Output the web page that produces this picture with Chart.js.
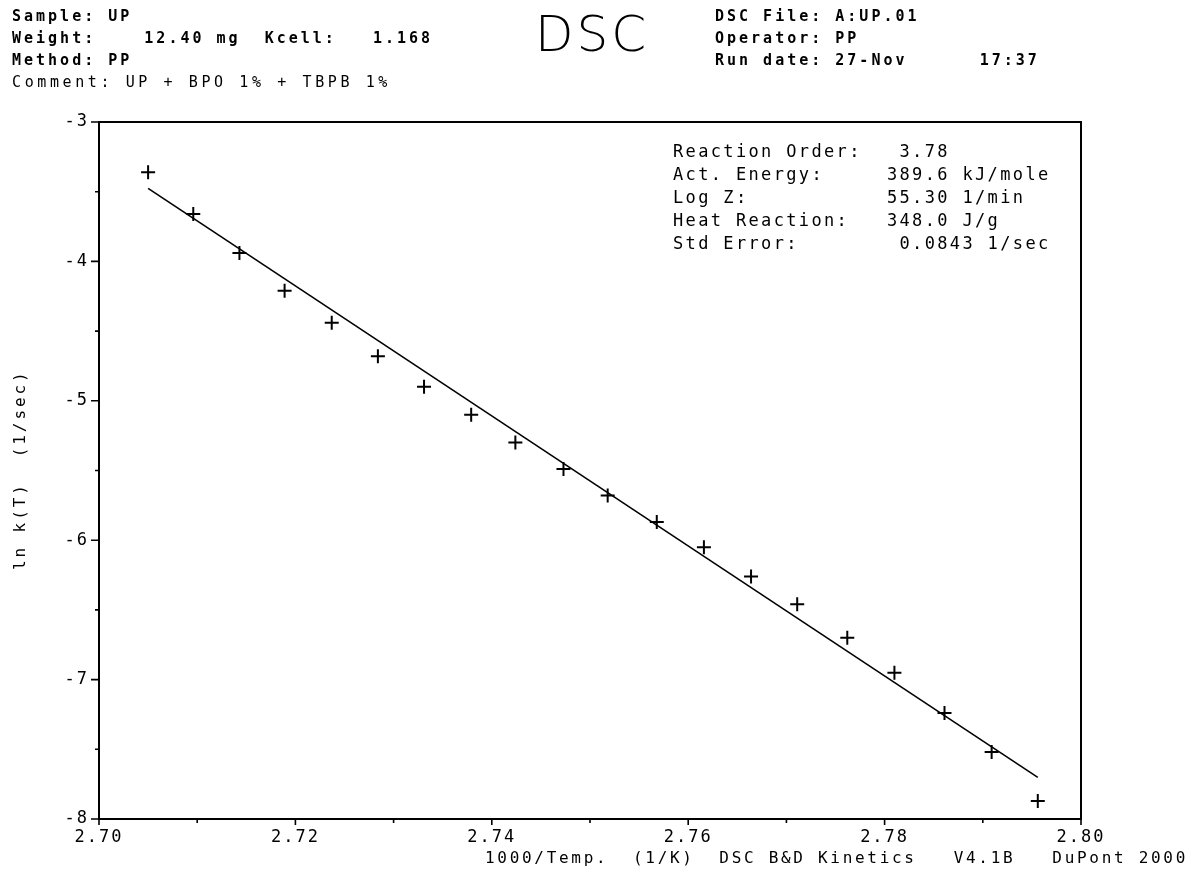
<!DOCTYPE html>
<html>
<head>
<meta charset="utf-8">
<script src="https://cdn.jsdelivr.net/npm/chart.js@4/dist/chart.umd.min.js"></script>
<style>
  html, body { margin: 0; padding: 0; background: #fff; }
  body { width: 1190px; height: 869px; position: relative; overflow: hidden; }
  #wrap { position: absolute; left: 0; top: 0; width: 1190px; height: 869px; }
  /* fixed-pitch plotter lettering, about 12-12.5 px per character cell */
  .t { position: absolute; white-space: pre; color: #000; font-family: "DejaVu Sans Mono", monospace; line-height: 1; }
  .hdr { font-size: 15px; font-weight: bold; letter-spacing: 3.0px; }
  .hdn { font-size: 15px; font-weight: normal; letter-spacing: 3.6px; }
  .stat { font-size: 17px; letter-spacing: 2.35px; }
  #big { font-family: "DejaVu Sans", sans-serif; font-weight: 200; font-size: 50px; letter-spacing: 3px; }
  #xtitle { font-size: 16px; letter-spacing: 2.7px; }
  #ytitle { font-size: 16px; letter-spacing: 2.9px; transform-origin: 0 0; transform: rotate(-90deg); }
</style>
</head>
<body>
<div id="wrap"><canvas id="c" width="1190" height="869"></canvas></div>

<!-- run header -->
<div class="t hdr" style="left:12px; top:9px;">Sample: UP</div>
<div class="t hdr" style="left:12px; top:31px;">Weight:    12.40 mg  Kcell:   1.168</div>
<div class="t hdr" style="left:12px; top:53px;">Method: PP</div>
<div class="t hdn" style="left:12px; top:75px;">Comment: UP + BPO 1% + TBPB 1%</div>

<div class="t" id="big" style="left:535px; top:9px;">DSC</div>

<div class="t hdr" style="left:715px; top:9px;">DSC File: A:UP.01</div>
<div class="t hdr" style="left:715px; top:31px;">Operator: PP</div>
<div class="t hdr" style="left:715px; top:53px;">Run date: 27-Nov      17:37</div>

<!-- kinetic results -->
<div class="t stat" style="left:673px; top:143px;">Reaction Order:   3.78</div>
<div class="t stat" style="left:673px; top:166px;">Act. Energy:     389.6 kJ/mole</div>
<div class="t stat" style="left:673px; top:189px;">Log Z:           55.30 1/min</div>
<div class="t stat" style="left:673px; top:212px;">Heat Reaction:   348.0 J/g</div>
<div class="t stat" style="left:673px; top:235px;">Std Error:        0.0843 1/sec</div>

<div class="t" id="ytitle" style="left:12px; top:570px;">ln k(T)  (1/sec)</div>
<div class="t" id="xtitle" style="right:2px; top:850px;">1000/Temp.  (1/K)  DSC B&amp;D Kinetics   V4.1B   DuPont 2000</div>

<script>
// Arrhenius points: 1000/T (1/K) against ln k(T) (1/sec)
const invT = [2.7050, 2.7096, 2.7143, 2.7189, 2.7237, 2.7284, 2.7331, 2.7379, 2.7424, 2.7473,
              2.7518, 2.7568, 2.7616, 2.7664, 2.7711, 2.7762, 2.7810, 2.7861, 2.7909, 2.7956];
const lnK  = [-3.36, -3.66, -3.94, -4.21, -4.44, -4.68, -4.90, -5.10, -5.30, -5.49,
              -5.68, -5.87, -6.05, -6.26, -6.46, -6.70, -6.95, -7.24, -7.52, -7.87];

// Kinetic fit line, drawn between the first and last data abscissae
const fitInvT = [2.7050, 2.7956];
const fitLnK  = [-3.476, -7.701];

// Axis tick labels (major ticks); minor ticks sit halfway between them
const xTickLabels = ['2.70', '2.72', '2.74', '2.76', '2.78', '2.80'];
const yTickLabels = ['-8', '-7', '-6', '-5', '-4', '-3'];

const tickFont = { family: "'DejaVu Sans Mono', monospace", size: 17 };

// Plot frame and tick marks (major ticks longer than minor ones)
const framePlugin = {
  id: 'frame',
  beforeDraw(chart) {
    chart.ctx.letterSpacing = '2px';
  },
  afterDraw(chart) {
    const a = chart.chartArea, ctx = chart.ctx;
    const xs = chart.scales.x, ys = chart.scales.y;
    ctx.save();
    ctx.strokeStyle = '#000';
    ctx.lineWidth = 2;
    ctx.strokeRect(a.left, a.top, a.right - a.left, a.bottom - a.top);
    ctx.lineWidth = 1.6;
    ctx.beginPath();
    for (let i = 0; i <= 10; i++) {
      const px = xs.getPixelForValue(2.70 + i * 0.01);
      const len = i % 2 === 0 ? 6 : 4;
      ctx.moveTo(px, a.bottom);
      ctx.lineTo(px, a.bottom + len);
    }
    for (let i = 0; i <= 10; i++) {
      const py = ys.getPixelForValue(-8 + i * 0.5);
      const len = i % 2 === 0 ? 8 : 4;
      ctx.moveTo(a.left, py);
      ctx.lineTo(a.left - len, py);
    }
    ctx.stroke();
    ctx.restore();
  }
};

new Chart(document.getElementById('c'), {
  type: 'scatter',
  data: {
    datasets: [
      {
        label: 'ln k(T)',
        data: invT.map((x, i) => ({ x, y: lnK[i] })),
        pointStyle: 'cross',
        pointRadius: 7,
        pointHoverRadius: 7,
        borderColor: '#000',
        backgroundColor: '#000',
        pointBorderWidth: 2,
        showLine: false
      },
      {
        label: 'fit',
        data: fitInvT.map((x, i) => ({ x, y: fitLnK[i] })),
        showLine: true,
        borderColor: '#000',
        borderWidth: 1.6,
        pointRadius: 0,
        fill: false
      }
    ]
  },
  plugins: [framePlugin],
  options: {
    responsive: false,
    animation: false,
    events: [],
    layout: { padding: { left: 0, top: 122, right: 109, bottom: 0 } },
    plugins: { legend: { display: false }, tooltip: { enabled: false } },
    scales: {
      x: {
        type: 'linear',
        min: 2.70,
        max: 2.80,
        afterBuildTicks(scale) {
          scale.ticks = xTickLabels.map((s) => ({ value: parseFloat(s) }));
        },
        afterFit(scale) { scale.height = 50; },
        grid: { display: true, drawOnChartArea: false, drawTicks: false },
        border: { display: true, color: '#000', width: 2 },
        ticks: {
          color: '#000',
          font: tickFont,
          padding: 8,
          maxRotation: 0,
          autoSkip: false,
          callback(v, i) { return xTickLabels[i]; }
        }
      },
      y: {
        type: 'linear',
        min: -8,
        max: -3,
        afterBuildTicks(scale) {
          scale.ticks = yTickLabels.map((s) => ({ value: parseFloat(s) }));
        },
        afterFit(scale) { scale.width = 99; },
        grid: { display: true, drawOnChartArea: false, drawTicks: false },
        border: { display: true, color: '#000', width: 2 },
        ticks: {
          color: '#000',
          font: tickFont,
          padding: 10,
          autoSkip: false,
          callback(v, i) { return yTickLabels[i]; }
        }
      }
    }
  }
});
</script>
</body>
</html>
